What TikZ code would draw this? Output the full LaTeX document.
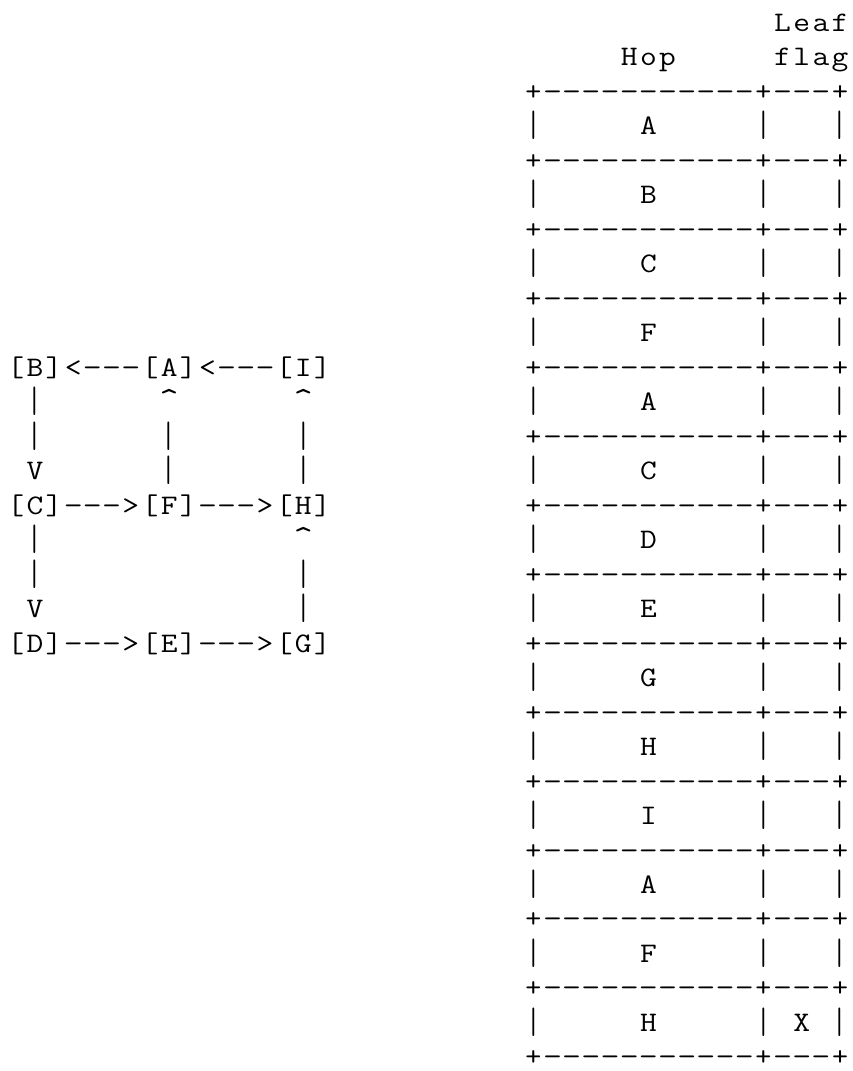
\documentclass[tikz,border=0pt]{standalone}
\usepackage{tikz}
\usepackage{graphicx}
\newdimen\cwd \cwd=19.17pt
\ExplSyntaxOn
\NewDocumentCommand\asc{m}
  {
    \tl_map_inline:nn {#1}
      {
        \str_case:nnF {##1}
          {
            {.}{\hbox_to_wd:nn {\cwd}{}}
            {*}{\hbox_to_wd:nn {\cwd}{\hss\scalebox{1.3}[1.2]{\textasciicircum}\hss}}
            {-}{\hbox_to_wd:nn {\cwd}{\hss\scalebox{1.3}[1]{-}\hss}}
            {|}{\hbox_to_wd:nn {\cwd}{\hss\raisebox{-2pt}{\scalebox{1}[1.3]{|}}\hss}}
            {+}{\hbox_to_wd:nn {\cwd}{\hss\scalebox{1.1}[1]{+}\hss}}
          }
          {\hbox_to_wd:nn {\cwd}{\hss\scalebox{1.15}[1]{##1}\hss}}
      }
  }
\ExplSyntaxOff
\tikzset{
  asciiline/.style={anchor=base west, inner sep=0pt, outer sep=0pt,
    font=\fontsize{28.3pt}{34.48pt}\selectfont\ttfamily, text=black}
}
% column c, line i -> position
\newcommand\at[2]{({6.2pt+#1*19.17pt},{-31.5pt-#2*34.48pt})}
\begin{document}
\begin{tikzpicture}
\fill[white] (0,0) rectangle (853pt,-1071pt);
\useasboundingbox (0,0) rectangle (853pt,-1071pt);
% header of the table
\node[asciiline] (hleaf) at \at{40}{0} {\asc{Leaf}};
\node[asciiline] (hhop)  at \at{32}{1} {\asc{Hop}};
\node[asciiline] (hflag) at \at{40}{1} {\asc{flag}};
% table
\node[asciiline] (t2)  at \at{27}{2}  {\asc{+-----------+---+}};
\node[asciiline] (t3)  at \at{27}{3}  {\asc{|.....A.....|...|}};
\node[asciiline] (t4)  at \at{27}{4}  {\asc{+-----------+---+}};
\node[asciiline] (t5)  at \at{27}{5}  {\asc{|.....B.....|...|}};
\node[asciiline] (t6)  at \at{27}{6}  {\asc{+-----------+---+}};
\node[asciiline] (t7)  at \at{27}{7}  {\asc{|.....C.....|...|}};
\node[asciiline] (t8)  at \at{27}{8}  {\asc{+-----------+---+}};
\node[asciiline] (t9)  at \at{27}{9}  {\asc{|.....F.....|...|}};
\node[asciiline] (t10) at \at{27}{10} {\asc{+-----------+---+}};
\node[asciiline] (t11) at \at{27}{11} {\asc{|.....A.....|...|}};
\node[asciiline] (t12) at \at{27}{12} {\asc{+-----------+---+}};
\node[asciiline] (t13) at \at{27}{13} {\asc{|.....C.....|...|}};
\node[asciiline] (t14) at \at{27}{14} {\asc{+-----------+---+}};
\node[asciiline] (t15) at \at{27}{15} {\asc{|.....D.....|...|}};
\node[asciiline] (t16) at \at{27}{16} {\asc{+-----------+---+}};
\node[asciiline] (t17) at \at{27}{17} {\asc{|.....E.....|...|}};
\node[asciiline] (t18) at \at{27}{18} {\asc{+-----------+---+}};
\node[asciiline] (t19) at \at{27}{19} {\asc{|.....G.....|...|}};
\node[asciiline] (t20) at \at{27}{20} {\asc{+-----------+---+}};
\node[asciiline] (t21) at \at{27}{21} {\asc{|.....H.....|...|}};
\node[asciiline] (t22) at \at{27}{22} {\asc{+-----------+---+}};
\node[asciiline] (t23) at \at{27}{23} {\asc{|.....I.....|...|}};
\node[asciiline] (t24) at \at{27}{24} {\asc{+-----------+---+}};
\node[asciiline] (t25) at \at{27}{25} {\asc{|.....A.....|...|}};
\node[asciiline] (t26) at \at{27}{26} {\asc{+-----------+---+}};
\node[asciiline] (t27) at \at{27}{27} {\asc{|.....F.....|...|}};
\node[asciiline] (t28) at \at{27}{28} {\asc{+-----------+---+}};
\node[asciiline] (t29) at \at{27}{29} {\asc{|.....H.....|.X.|}};
\node[asciiline] (t30) at \at{27}{30} {\asc{+-----------+---+}};
% left graph (ASCII)
\node[asciiline] (g10) at \at{0}{10} {\asc{[B]<---[A]<---[I]}};
\node[asciiline] (g11) at \at{0}{11} {\asc{.|......*......*}};
\node[asciiline] (g12) at \at{0}{12} {\asc{.|......|......|}};
\node[asciiline] (g13) at \at{0}{13} {\asc{.V......|......|}};
\node[asciiline] (g14) at \at{0}{14} {\asc{[C]--->[F]--->[H]}};
\node[asciiline] (g15) at \at{0}{15} {\asc{.|.............*}};
\node[asciiline] (g16) at \at{0}{16} {\asc{.|.............|}};
\node[asciiline] (g17) at \at{0}{17} {\asc{.V.............|}};
\node[asciiline] (g18) at \at{0}{18} {\asc{[D]--->[E]--->[G]}};
\end{tikzpicture}
\end{document}
